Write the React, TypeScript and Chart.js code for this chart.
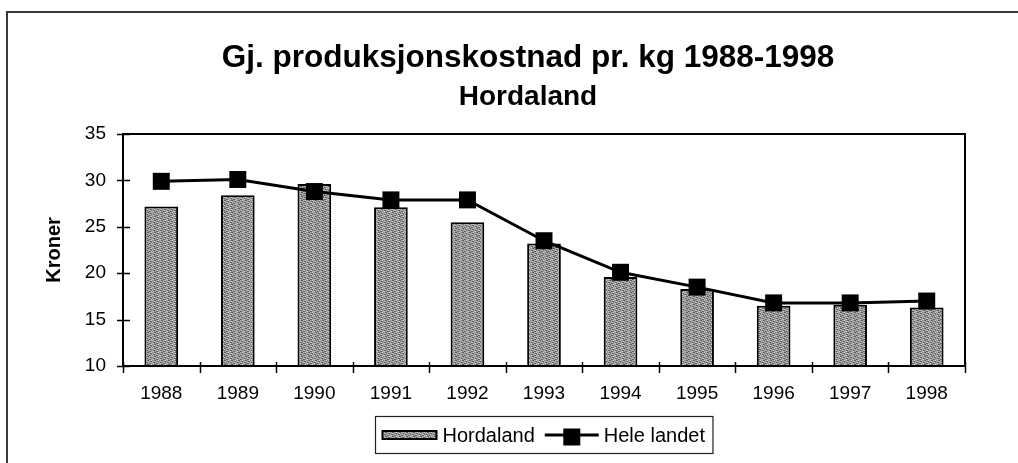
import { useEffect, useRef } from 'react';
import { Chart, registerables } from 'chart.js';

Chart.register(...registerables);

const categories = ['1988', '1989', '1990', '1991', '1992', '1993', '1994', '1995', '1996', '1997', '1998'];
const hordaland = [27.2, 28.4, 29.6, 27.1, 25.5, 23.2, 19.6, 18.3, 16.5, 16.6, 16.3];
const heleLandet = [29.9, 30.1, 28.8, 27.9, 27.9, 23.5, 20.1, 18.5, 16.8, 16.8, 17.0];
const yTickValues = [10, 15, 20, 25, 30, 35];
const seriesLabels = ['Hordaland', 'Hele landet'];
const titleText = 'Gj. produksjonskostnad pr. kg 1988-1998';
const subtitleText = 'Hordaland';
const yAxisTitle = 'Kroner';

const FONT = '"Liberation Sans", Arial, Helvetica, sans-serif';

function makePattern(): CanvasPattern | string {
  const c = document.createElement('canvas');
  c.width = 7;
  c.height = 4;
  const g = c.getContext('2d');
  if (!g) return '#999999';
  for (let y = 0; y < c.height; y++) {
    for (let x = 0; x < c.width; x++) {
      const k = (x * 3 + y * 5) % 7;
      let col = '#a6a6a6';
      if (k === 0 || k === 3) col = '#5c5c5c';
      else if (k === 5) col = '#d2d2d2';
      else if (k === 1) col = '#8a8a8a';
      g.fillStyle = col;
      g.fillRect(x, y, 1, 1);
    }
  }
  return g.createPattern(c, 'repeat') || '#999999';
}

export default function App() {
  const ref = useRef<HTMLCanvasElement | null>(null);

  useEffect(() => {
    const canvas = ref.current;
    if (!canvas) return;
    const pattern = makePattern();

    const framePlugin = {
      id: 'frameAndTicks',
      beforeDraw(chart: any) {
        const ctx = chart.ctx;
        ctx.save();
        ctx.fillStyle = '#ffffff';
        ctx.fillRect(0, 0, chart.width, chart.height);
        ctx.strokeStyle = '#3a3a3a';
        ctx.lineWidth = 2;
        ctx.beginPath();
        ctx.moveTo(7, chart.height);
        ctx.lineTo(7, 12);
        ctx.lineTo(chart.width, 12);
        ctx.stroke();
        ctx.restore();
      },
      afterDraw(chart: any) {
        const ctx = chart.ctx;
        const a = chart.chartArea;
        const ys = chart.scales.y;
        const xs = chart.scales.x;
        ctx.save();
        ctx.strokeStyle = '#000';
        ctx.lineWidth = 2;
        ctx.strokeRect(a.left, a.top, a.right - a.left, a.bottom - a.top);
        ctx.lineWidth = 1.5;
        ctx.beginPath();
        yTickValues.forEach((v) => {
          const y = Math.round(ys.getPixelForValue(v)) + 0.5;
          ctx.moveTo(a.left - 6, y);
          ctx.lineTo(a.left + 7, y);
        });
        const n = categories.length;
        for (let k = 0; k <= n; k++) {
          const x = Math.round(xs.left + (k * (xs.right - xs.left)) / n) + 0.5;
          ctx.moveTo(x, a.bottom - 4);
          ctx.lineTo(x, a.bottom + 7);
        }
        ctx.stroke();

        // legend
        ctx.font = `20px ${FONT}`;
        const tw1 = ctx.measureText(seriesLabels[0]).width;
        const tw2 = ctx.measureText(seriesLabels[1]).width;
        const boxW = 7 + 54 + 6 + tw1 + 10 + 54 + 5 + tw2 + 8;
        const cx = (a.left + a.right) / 2;
        const bx = Math.round(cx - boxW / 2) + 0.5;
        const by = 416.5;
        const bh = 37;
        ctx.lineWidth = 1.2;
        ctx.strokeStyle = '#222';
        ctx.strokeRect(bx, by, boxW, bh);
        const midY = by + bh / 2;
        let x = bx + 7;
        ctx.fillStyle = pattern as any;
        ctx.fillRect(x, midY - 4, 54, 8);
        ctx.lineWidth = 2;
        ctx.strokeStyle = '#000';
        ctx.strokeRect(x, midY - 4, 54, 8);
        x += 54 + 6;
        ctx.fillStyle = '#000';
        ctx.textBaseline = 'alphabetic';
        ctx.textAlign = 'left';
        ctx.fillText(seriesLabels[0], x, midY + 7);
        x += tw1 + 10;
        ctx.lineWidth = 3;
        ctx.beginPath();
        ctx.moveTo(x, midY);
        ctx.lineTo(x + 54, midY);
        ctx.stroke();
        ctx.fillRect(x + 27 - 8.5, midY - 6.5, 17, 17);
        x += 54 + 5;
        ctx.fillText(seriesLabels[1], x, midY + 7);
        ctx.restore();
      },
    };

    const chart = new Chart(canvas, {
      type: 'bar',
      data: {
        labels: categories,
        datasets: [
          {
            type: 'line',
            label: seriesLabels[1],
            data: heleLandet,
            borderColor: '#000',
            backgroundColor: '#000',
            borderWidth: 3,
            pointStyle: 'rect',
            pointRadius: 12,
            pointBorderWidth: 0,
            pointBackgroundColor: '#000',
            tension: 0,
            order: 0,
          } as any,
          {
            type: 'bar',
            label: seriesLabels[0],
            data: hordaland,
            backgroundColor: pattern as any,
            borderColor: '#000',
            borderWidth: 2,
            borderSkipped: false,
            categoryPercentage: 1,
            barPercentage: 0.44,
            order: 1,
          } as any,
        ],
      },
      options: {
        responsive: false,
        animation: false,
        devicePixelRatio: 1,
        layout: { padding: { left: 38, right: 0, top: 0, bottom: 0 } },
        plugins: {
          legend: { display: false },
          tooltip: { enabled: false },
          title: {
            display: true,
            text: titleText,
            color: '#000',
            font: { family: FONT, size: 31.5, weight: 'bold' },
            padding: { top: 39, bottom: 0 },
          },
          subtitle: {
            display: true,
            text: subtitleText,
            color: '#000',
            font: { family: FONT, size: 28, weight: 'bold' },
            padding: { top: 3.4, bottom: 20.2 },
          },
        },
        scales: {
          x: {
            offset: true,
            grid: { display: false },
            border: { display: false },
            ticks: {
              color: '#000',
              font: { family: FONT, size: 19 },
              padding: 8,
              maxRotation: 0,
            },
            afterFit: (s: any) => {
              s.height = 97;
            },
          },
          y: {
            min: 10,
            max: 35,
            grid: { display: false },
            border: { display: false },
            ticks: {
              stepSize: 5,
              color: '#000',
              font: { family: FONT, size: 19 },
              padding: 9,
            },
            title: {
              display: true,
              text: yAxisTitle,
              color: '#000',
              font: { family: FONT, size: 20, weight: 'bold' },
              padding: { top: 4, bottom: 0 },
            },
            afterFit: (s: any) => {
              s.width = 85;
            },
          },
          yR: {
            position: 'right',
            display: true,
            grid: { display: false },
            border: { display: false },
            ticks: { display: false },
            afterFit: (s: any) => {
              s.width = 53;
            },
          },
        },
      } as any,
      plugins: [framePlugin],
    });

    return () => {
      chart.destroy();
    };
  }, []);

  return (
    <div style={{ position: 'fixed', left: 0, top: 0, width: 1018, height: 463 }}>
      <canvas ref={ref} width={1018} height={463} style={{ display: 'block', width: 1018, height: 463 }} />
    </div>
  );
}
